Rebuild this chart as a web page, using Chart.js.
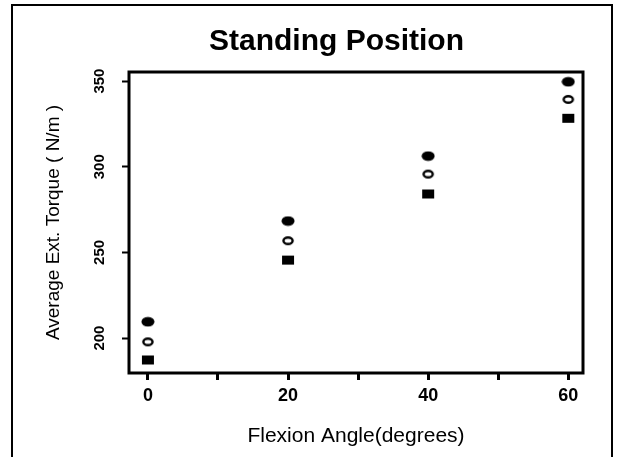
<!DOCTYPE html>
<html>
<head>
<meta charset="utf-8">
<title>Standing Position</title>
<script src="https://cdn.jsdelivr.net/npm/chart.js@4/dist/chart.umd.min.js"></script>
<style>
  html, body { margin: 0; padding: 0; background: #fff; }
  #wrap { position: relative; width: 619px; height: 457px; overflow: hidden; }
  #frame { position: absolute; left: 11px; top: 4px; width: 598px; height: 470px; border: 2px solid #000; pointer-events: none; }
  canvas { position: absolute; left: 0; top: 0; }
</style>
</head>
<body>
<div id="wrap">
  <canvas id="standingChart" width="619" height="457"></canvas>
  <div id="frame"></div>
</div>
<script>
// Flexion angles (degrees)
var angles = [0, 20, 40, 60];
// Average extension torque (N/m), one array per marker type
var torqueFilledCircle = [209.5, 268.3, 306.2, 349.6];
var torqueOpenCircle = [197.8, 256.8, 295.7, 339.3];
var torqueSquare = [187.2, 245.5, 284.1, 328.3];
// Axis ticks
var xTicks = [0, 10, 20, 30, 40, 50, 60];
var xLabelled = [0, 20, 40, 60];
var yTicks = [200, 250, 300, 350];

(function () {
  'use strict';

  var FONT = '"Liberation Sans", Arial, Helvetica, sans-serif';

  // Small canvases used as point styles (markers are a bit wider than tall)
  function makeMarker(kind) {
    var c = document.createElement('canvas');
    c.width = 14;
    c.height = 11;
    var g = c.getContext('2d');
    g.fillStyle = '#000';
    g.strokeStyle = '#000';
    if (kind === 'filled') {
      g.beginPath();
      g.ellipse(7, 5.5, 6.5, 4.8, 0, 0, Math.PI * 2);
      g.fill();
    } else if (kind === 'open') {
      g.lineWidth = 2.4;
      g.beginPath();
      g.ellipse(7, 5.5, 4.6, 3.3, 0, 0, Math.PI * 2);
      g.stroke();
    } else {
      g.fillRect(1, 1, 12, 9);
    }
    return c;
  }

  function toPoints(values) {
    return angles.map(function (a, i) { return { x: a, y: values[i] }; });
  }

  // Thick box around the plotting region
  var boxPlugin = {
    id: 'plotBox',
    afterDraw: function (chart) {
      var a = chart.chartArea;
      var ctx = chart.ctx;
      ctx.save();
      ctx.strokeStyle = '#000';
      ctx.lineWidth = 3;
      ctx.strokeRect(a.left, a.top, a.right - a.left, a.bottom - a.top);
      ctx.restore();
    }
  };

  var ctx = document.getElementById('standingChart');

  new Chart(ctx, {
    type: 'scatter',
    data: {
      datasets: [
        { label: 'Filled circle', data: toPoints(torqueFilledCircle), pointStyle: makeMarker('filled') },
        { label: 'Open circle', data: toPoints(torqueOpenCircle), pointStyle: makeMarker('open') },
        { label: 'Square', data: toPoints(torqueSquare), pointStyle: makeMarker('square') }
      ]
    },
    options: {
      responsive: false,
      animation: false,
      events: [],
      layout: {
        autoPadding: false,
        padding: { left: 90, right: 36, top: 0, bottom: 0 }
      },
      plugins: {
        legend: { display: false },
        tooltip: { enabled: false },
        title: {
          display: true,
          text: 'Standing Position',
          color: '#000',
          font: { family: FONT, size: 30, weight: 'bold' },
          padding: { top: 24, bottom: 12 }
        }
      },
      scales: {
        x: {
          type: 'linear',
          min: -2.7,
          max: 62.1,
          afterFit: function (scale) { scale.height = 84; },
          afterBuildTicks: function (scale) {
            scale.ticks = xTicks.map(function (v) { return { value: v }; });
          },
          ticks: {
            color: '#000',
            padding: 5,
            font: { family: FONT, size: 18, weight: 'bold' },
            callback: function (v) { return xLabelled.indexOf(v) >= 0 ? String(v) : ''; }
          },
          grid: {
            drawOnChartArea: false,
            drawTicks: true,
            tickLength: 7,
            tickWidth: 3,
            tickColor: '#000'
          },
          border: { display: false },
          title: {
            display: true,
            text: 'Flexion Angle(degrees)',
            color: '#000',
            font: { family: FONT, size: 21 },
            padding: { top: 0, bottom: 8 }
          }
        },
        y: {
          type: 'linear',
          min: 179.6,
          max: 355.3,
          afterFit: function (scale) { scale.width = 39; },
          afterBuildTicks: function (scale) {
            scale.ticks = yTicks.map(function (v) { return { value: v }; });
          },
          ticks: {
            color: '#000',
            padding: 10,
            minRotation: 90,
            maxRotation: 90,
            crossAlign: 'center',
            font: { family: FONT, size: 15, weight: 'bold' }
          },
          grid: {
            drawOnChartArea: false,
            drawTicks: true,
            tickLength: 7,
            tickWidth: 2,
            tickColor: '#000'
          },
          border: { display: false },
          title: {
            display: true,
            text: 'Average Ext. Torque ( N/m )',
            color: '#000',
            font: { family: FONT, size: 19 },
            padding: { top: -48, bottom: 0 }
          }
        }
      }
    },
    plugins: [boxPlugin]
  });
})();
</script>
</body>
</html>
